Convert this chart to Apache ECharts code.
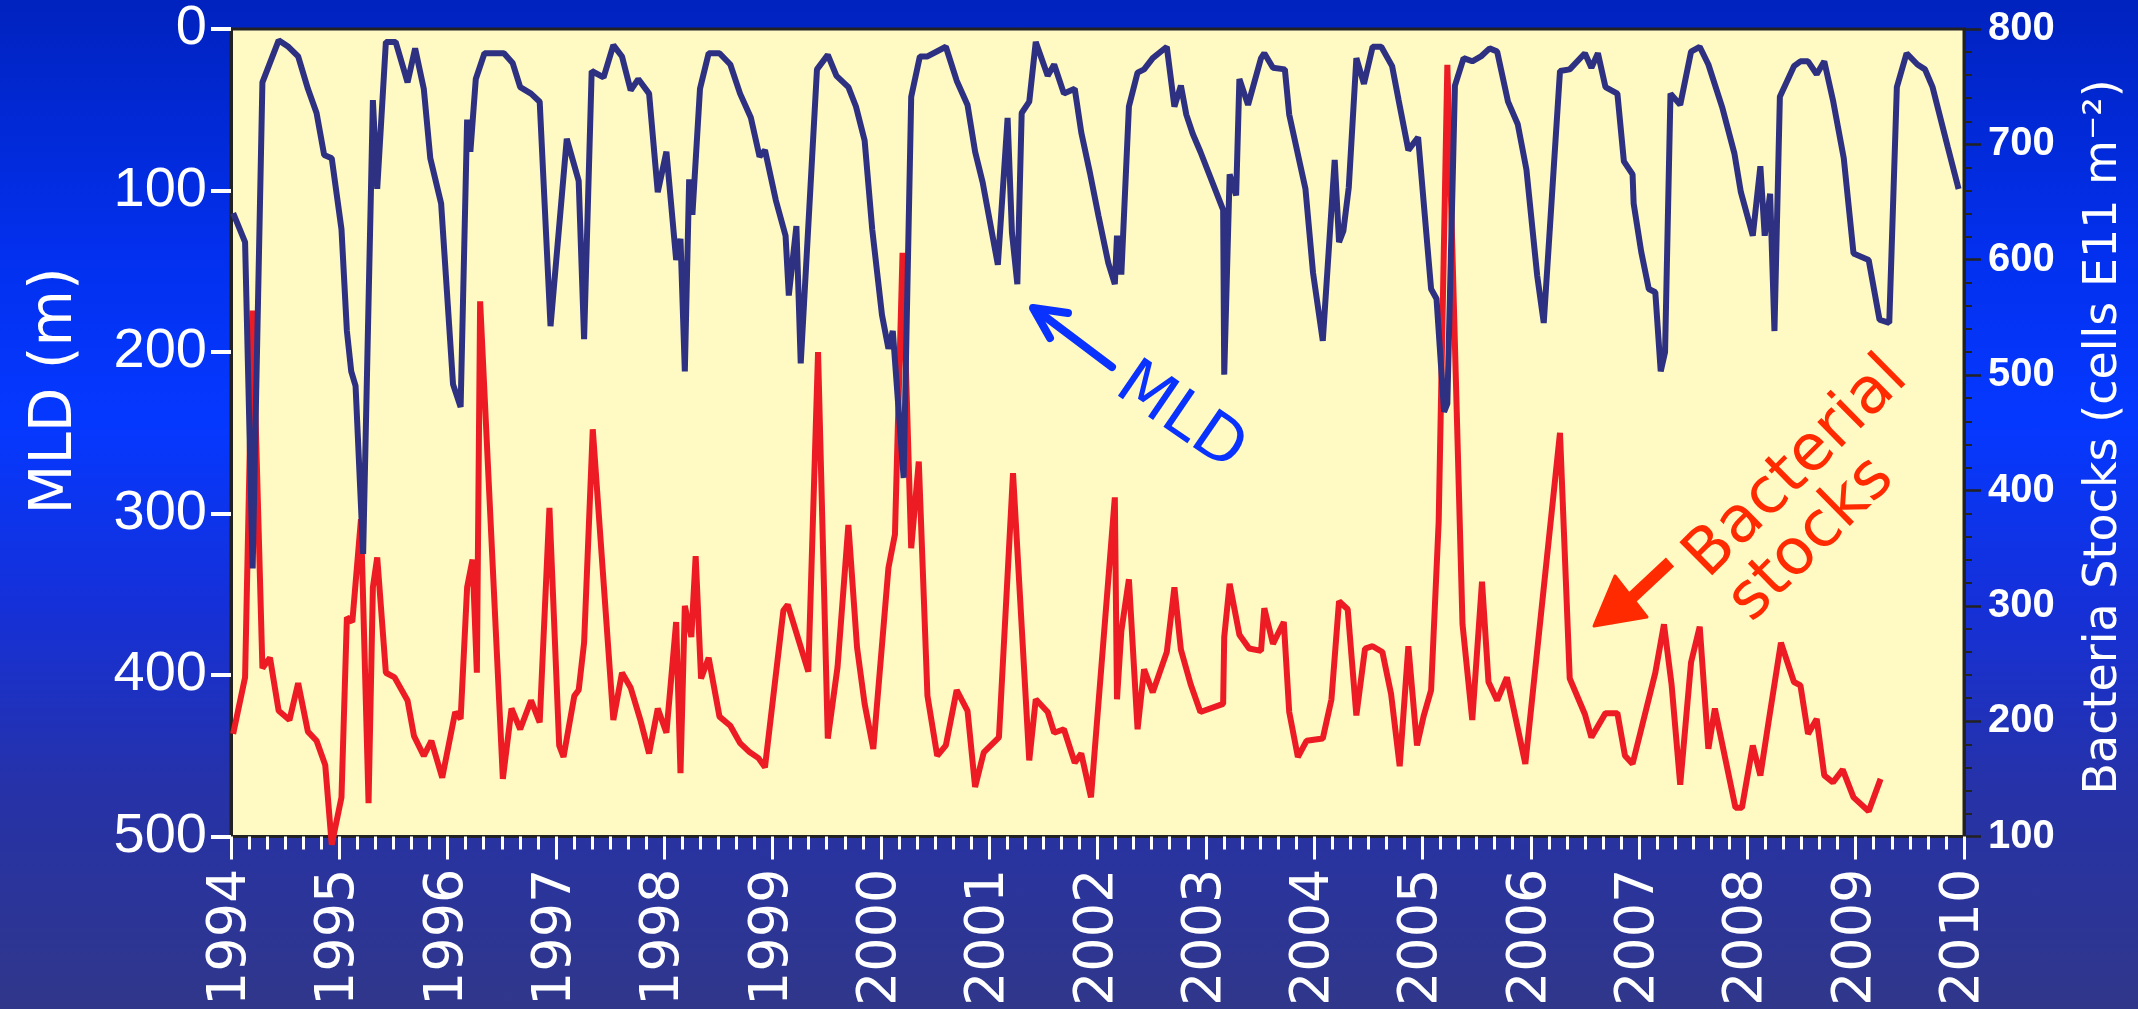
<!DOCTYPE html>
<html>
<head>
<meta charset="utf-8">
<script src="https://cdn.jsdelivr.net/npm/echarts@6/dist/echarts.min.js"></script>
<style>
  html, body { margin: 0; padding: 0; }
  #chart {
    width: 2138px; height: 1009px;
    background: linear-gradient(to bottom, #0022BE 0%, #0330EE 25%, #0538FF 42%, #1530D8 60%, #2632A8 78%, #30378A 100%);
  }
</style>
</head>
<body>
<div id="chart"></div>
<script>
// Mixed layer depth (m), sampled roughly monthly
const mldYears = [1994.02,1994.13,1994.20,1994.29,1994.44,1994.53,1994.62,1994.71,1994.79,1994.86,1994.93,
  1995.02,1995.07,1995.11,1995.15,1995.22,1995.31,1995.35,1995.43,1995.52,1995.63,1995.70,1995.78,1995.84,1995.94,
  1996.05,1996.12,1996.18,1996.21,1996.26,1996.34,1996.52,1996.60,1996.67,1996.77,1996.85,1996.95,
  1997.10,1997.21,1997.26,1997.33,1997.44,1997.53,1997.61,1997.69,1997.76,1997.86,1997.94,
  1998.02,1998.11,1998.15,1998.19,1998.23,1998.26,1998.33,1998.41,1998.51,1998.61,1998.70,1998.80,1998.88,1998.93,
  1999.03,1999.12,1999.15,1999.22,1999.26,1999.41,1999.51,1999.59,1999.70,1999.77,1999.85,1999.92,
  2000.01,2000.07,2000.11,2000.21,2000.28,2000.36,2000.43,2000.60,2000.70,2000.80,2000.87,2000.94,
  2001.08,2001.17,2001.21,2001.26,2001.30,2001.37,2001.43,2001.54,2001.60,2001.69,2001.79,2001.85,2001.93,
  2002.01,2002.10,2002.16,2002.18,2002.22,2002.29,2002.37,2002.43,2002.51,2002.64,2002.71,2002.77,2002.82,2002.88,2002.95,
  2003.16,2003.17,2003.22,2003.28,2003.31,2003.39,2003.51,2003.54,2003.62,2003.73,2003.77,2003.92,2003.99,
  2004.08,2004.19,2004.23,2004.27,2004.32,2004.39,2004.46,2004.54,2004.62,2004.72,2004.78,2004.87,2004.96,
  2005.08,2005.13,2005.20,2005.23,2005.30,2005.38,2005.46,2005.54,2005.62,2005.69,2005.79,2005.88,2005.96,
  2006.06,2006.12,2006.27,2006.36,2006.50,2006.56,2006.62,2006.69,2006.80,2006.86,2006.94,2006.95,
  2007.02,2007.09,2007.15,2007.20,2007.24,2007.29,2007.38,2007.48,2007.56,2007.64,2007.77,2007.88,2007.94,
  2008.05,2008.12,2008.16,2008.21,2008.25,2008.30,2008.43,2008.49,2008.56,2008.64,2008.71,2008.79,2008.89,2008.98,
  2009.12,2009.22,2009.31,2009.38,2009.47,2009.57,2009.64,2009.71,2009.85,2009.95];
const mldDepth = [114,132,334,33,7,11,17,37,52,78,80,
  124,187,212,221,325,44,99,8,8,33,12,37,80,108,
  220,234,56,76,31,15,15,21,36,40,45,184,
  68,94,192,26,30,10,17,38,31,40,101,
  76,143,130,212,93,115,37,15,15,22,40,55,79,75,
  106,128,165,122,207,25,16,29,36,48,69,124,
  177,198,187,278,42,17,17,11,32,47,76,95,
  146,55,126,158,52,45,8,29,22,40,37,64,89,
  116,145,158,128,152,48,27,25,18,11,48,35,53,65,76,
  112,214,90,103,31,47,18,15,24,25,53,99,151,
  193,81,132,125,98,18,34,11,11,23,44,75,67,
  161,167,237,232,35,18,20,17,12,14,45,59,87,
  153,182,26,25,15,24,15,36,40,82,90,108,
  138,161,163,212,200,40,47,14,11,22,49,77,101,
  128,85,128,102,187,42,23,20,20,28,20,44,80,139,
  143,180,182,36,15,22,25,36,73,99];

// Bacterial stocks (cells E11 m-2)
const bactYears = [1994.02,1994.13,1994.20,1994.29,1994.36,1994.44,1994.54,1994.62,1994.71,1994.79,1994.87,1994.93,
  1995.02,1995.07,1995.12,1995.20,1995.27,1995.31,1995.35,1995.43,1995.51,1995.63,1995.69,1995.78,1995.85,1995.95,
  1996.07,1996.12,1996.18,1996.23,1996.27,1996.30,1996.51,1996.59,1996.67,1996.77,1996.85,1996.94,
  1997.03,1997.07,1997.17,1997.21,1997.26,1997.34,1997.53,1997.61,1997.69,1997.78,1997.86,1997.94,
  1998.02,1998.11,1998.15,1998.19,1998.25,1998.29,1998.34,1998.41,1998.51,1998.61,1998.70,1998.79,1998.87,1998.93,
  1999.10,1999.14,1999.33,1999.42,1999.51,1999.60,1999.70,1999.78,1999.85,1999.93,
  2000.07,2000.13,2000.20,2000.28,2000.35,2000.43,2000.52,2000.60,2000.70,2000.80,2000.87,2000.95,
  2001.09,2001.22,2001.37,2001.43,2001.54,2001.60,2001.69,2001.79,2001.85,2001.94,
  2002.16,2002.18,2002.22,2002.29,2002.37,2002.43,2002.51,2002.64,2002.71,2002.77,2002.86,2002.95,
  2003.16,2003.17,2003.22,2003.31,2003.40,2003.51,2003.54,2003.62,2003.72,2003.77,2003.85,2003.93,
  2004.08,2004.16,2004.23,2004.31,2004.39,2004.47,2004.54,2004.63,2004.71,2004.79,2004.87,2004.95,
  2005.01,2005.08,2005.15,2005.23,2005.37,2005.46,2005.55,2005.61,2005.69,2005.78,2005.95,
  2006.27,2006.36,2006.50,2006.56,2006.69,2006.80,2006.87,2006.94,
  2007.15,2007.23,2007.30,2007.38,2007.48,2007.56,2007.64,2007.70,2007.89,2007.95,
  2008.05,2008.12,2008.20,2008.31,2008.43,2008.49,2008.56,2008.64,2008.71,2008.79,2008.88,2008.98,
  2009.12,2009.23];
const bactStocks = [189,238,556,246,255,209,201,233,191,183,162,93,
  134,290,286,375,129,316,342,242,238,218,187,170,183,151,
  208,202,316,340,242,564,150,211,193,218,199,385,
  179,169,222,227,268,453,201,242,229,201,172,211,
  190,286,155,300,273,343,237,255,204,196,181,173,168,160,
  296,301,243,520,185,247,370,264,215,176,
  333,362,606,350,425,222,170,179,227,209,143,173,
  186,415,166,219,208,190,193,164,172,134,
  394,219,278,323,193,245,225,260,316,262,232,208,
  215,273,319,275,263,261,298,267,286,208,169,183,
  185,219,304,297,205,263,265,260,224,161,265,179,
  204,227,373,769,284,201,321,234,218,238,163,
  450,237,206,186,207,207,170,163,
  242,284,232,145,251,282,176,211,125,125,
  179,153,202,268,234,231,189,202,153,147,158,134,
  122,150];

const chart = echarts.init(document.getElementById('chart'), null, {renderer: 'canvas'});

const white = '#FFFFFF';
const dark = '#222222';

const option = {
  backgroundColor: 'transparent',
  animation: false,
  grid: {
    left: 231, top: 29, right: 174, bottom: 169,
    show: true, backgroundColor: '#FFF9C4', borderColor: dark, borderWidth: 3
  },
  xAxis: {
    type: 'value', min: 1994, max: 2010, interval: 1, position: 'bottom',
    axisLine: { show: true, onZero: false, lineStyle: { color: dark, width: 3 } },
    axisTick: { show: true, inside: false, length: 23, lineStyle: { color: white, width: 3 } },
    minorTick: { show: true, splitNumber: 6, length: 13, lineStyle: { color: white, width: 3 } },
    splitLine: { show: false },
    minorSplitLine: { show: false },
    axisLabel: {
      rotate: 90, margin: 32, color: white,
      fontFamily: "'DejaVu Sans', sans-serif", fontSize: 54,
      formatter: v => String(Math.round(v))
    }
  },
  yAxis: [
    {
      type: 'value', min: 0, max: 500, interval: 100, inverse: true, position: 'left',
      axisLine: { show: true, onZero: false, lineStyle: { color: dark, width: 3 } },
      axisTick: { show: true, inside: false, length: 20, lineStyle: { color: white, width: 4 } },
      splitLine: { show: false },
      axisLabel: {
        margin: 24, color: white,
        fontFamily: "'Liberation Sans Narrow', 'Liberation Sans', sans-serif", fontSize: 56
      }
    },
    {
      type: 'value', min: 100, max: 800, interval: 100, position: 'right',
      axisLine: { show: true, onZero: false, lineStyle: { color: dark, width: 3 } },
      axisTick: { show: true, inside: false, length: 17, lineStyle: { color: dark, width: 2.5 } },
      minorTick: { show: true, splitNumber: 5, length: 8, lineStyle: { color: dark, width: 2 } },
      splitLine: { show: false },
      minorSplitLine: { show: false },
      axisLabel: {
        margin: 24, color: white, fontWeight: 'bold',
        fontFamily: "'Liberation Sans', sans-serif", fontSize: 40
      }
    }
  ],
  series: [
    {
      name: 'Bacterial stocks', type: 'line', yAxisIndex: 1, clip: false,
      showSymbol: false, symbol: 'none',
      lineStyle: { color: '#ED1C24', width: 6 },
      data: bactYears.map((x, i) => [x, bactStocks[i]]),
      z: 2
    },
    {
      name: 'MLD', type: 'line', yAxisIndex: 0,
      showSymbol: false, symbol: 'none',
      lineStyle: { color: '#2E3182', width: 6 },
      data: mldYears.map((x, i) => [x, mldDepth[i]]),
      z: 3
    }
  ],
  graphic: [
    {
      type: 'text', x: 56, y: 391, rotation: Math.PI / 2,
      style: { text: 'MLD (m)', fill: white, font: "58px 'DejaVu Sans', sans-serif",
        align: 'center', verticalAlign: 'middle', textAlign: 'center', textVerticalAlign: 'middle' }
    },
    {
      type: 'text', x: 2104, y: 437, rotation: Math.PI / 2,
      style: { text: 'Bacteria Stocks (cells E11 m\u207B\u00B2)', fill: white, font: "46px 'DejaVu Sans', sans-serif",
        align: 'center', verticalAlign: 'middle', textAlign: 'center', textVerticalAlign: 'middle' }
    },
    {
      type: 'polyline', z: 10,
      shape: { points: [[1112, 367], [1035, 309]] },
      style: { stroke: '#0A32FF', lineWidth: 8, lineCap: 'round', fill: null }
    },
    {
      type: 'polyline', z: 10,
      shape: { points: [[1068, 313], [1033, 308], [1050, 338]] },
      style: { stroke: '#0A32FF', lineWidth: 8, lineCap: 'round', lineJoin: 'round', fill: null }
    },
    {
      type: 'text', x: 1180, y: 418, rotation: -0.6, z: 10,
      style: { text: 'MLD', fill: '#0A32FF', font: "64px 'DejaVu Sans', sans-serif",
        align: 'center', verticalAlign: 'middle', textAlign: 'center', textVerticalAlign: 'middle' }
    },
    {
      type: 'polyline', z: 10,
      shape: { points: [[1670, 562], [1608, 620]] },
      style: { stroke: '#FF2A00', lineWidth: 12, fill: null }
    },
    {
      type: 'polygon', z: 10,
      shape: { points: [[1594, 626], [1615, 576], [1647, 617]] },
      style: { fill: '#FF2A00', stroke: '#FF2A00', lineWidth: 3, lineJoin: 'round' }
    },
    {
      type: 'text', x: 1797, y: 468, rotation: 0.78, z: 10,
      style: { text: 'Bacterial', fill: '#FF2A00', font: "64px 'DejaVu Sans', sans-serif",
        align: 'center', verticalAlign: 'middle', textAlign: 'center', textVerticalAlign: 'middle' }
    },
    {
      type: 'text', x: 1812, y: 540, rotation: 0.78, z: 10,
      style: { text: 'stocks', fill: '#FF2A00', font: "64px 'DejaVu Sans', sans-serif",
        align: 'center', verticalAlign: 'middle', textAlign: 'center', textVerticalAlign: 'middle' }
    }
  ]
};
chart.setOption(option);
</script>
</body>
</html>
